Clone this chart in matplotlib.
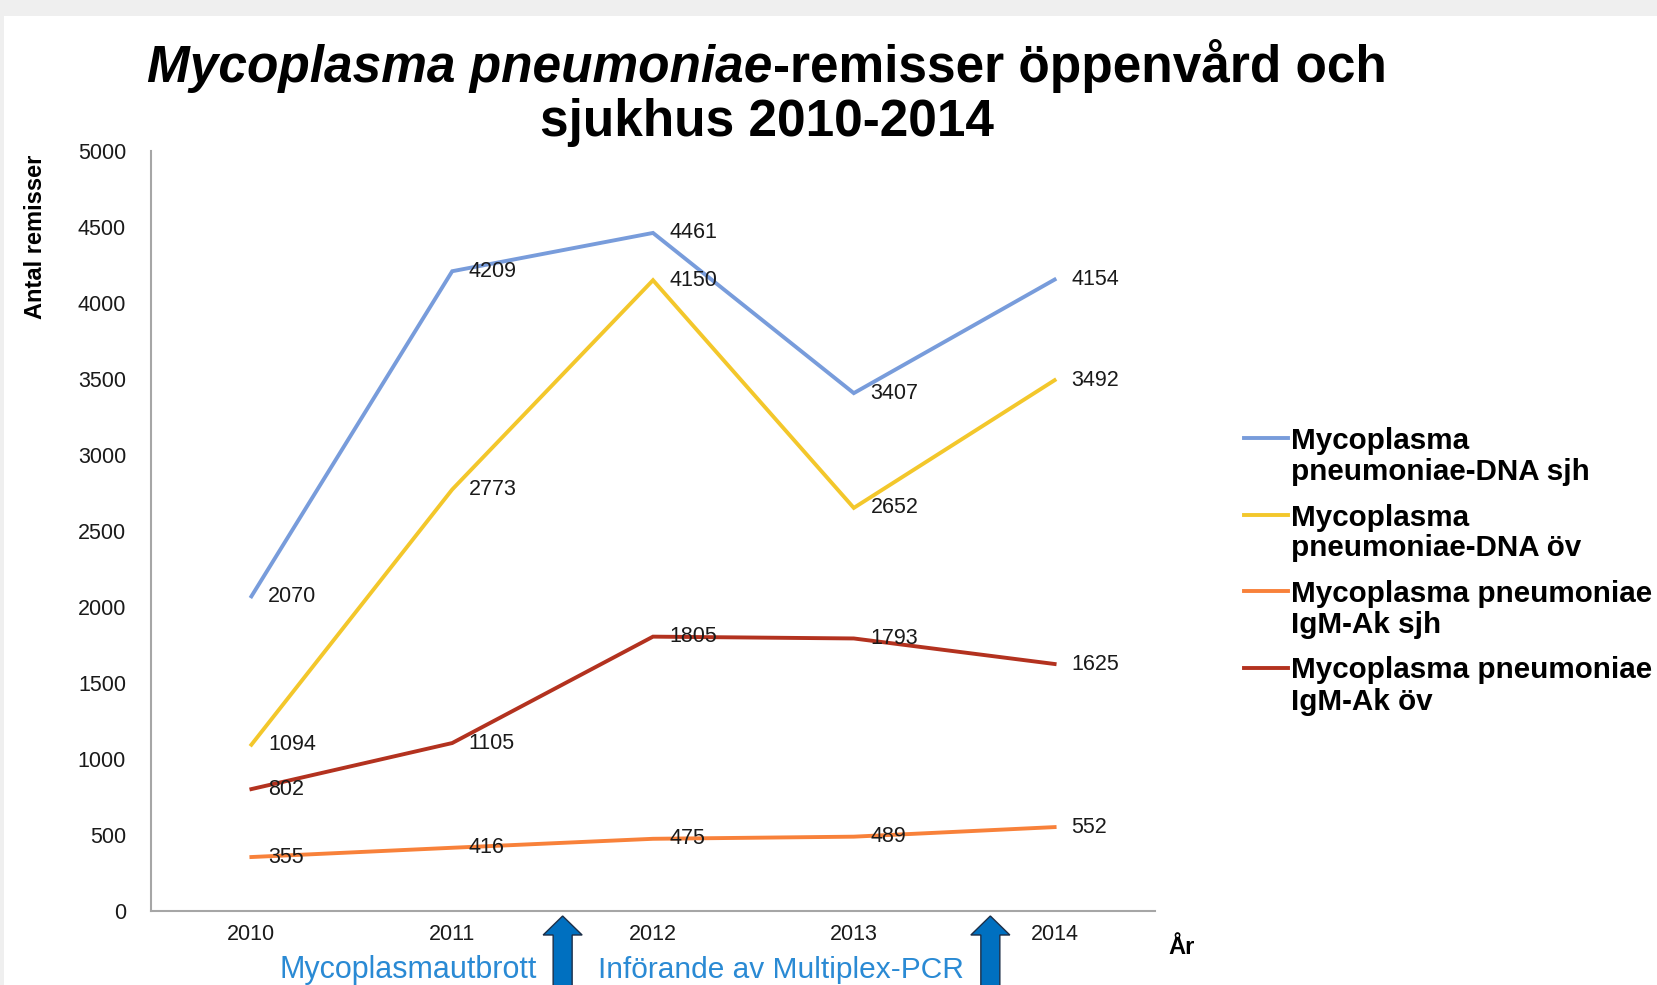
import matplotlib
matplotlib.use("Agg")
import matplotlib.pyplot as plt
from matplotlib.lines import Line2D
from matplotlib.patches import Rectangle, FancyArrow
from matplotlib.transforms import IdentityTransform

plt.rcParams['font.family'] = ['Liberation Sans', 'DejaVu Sans']

W, H = 1657, 985

# data
years = ['2010', '2011', '2012', '2013', '2014']
dna_sjh = [2070, 4209, 4461, 3407, 4154]
dna_ov = [1094, 2773, 4150, 2652, 3492]
igm_sjh = [355, 416, 475, 489, 552]
igm_ov = [802, 1105, 1805, 1793, 1625]

series = [dna_sjh, dna_ov, igm_sjh, igm_ov]
labels = [
    ['Mycoplasma', 'pneumoniae-DNA sjh'],
    ['Mycoplasma', 'pneumoniae-DNA öv'],
    ['Mycoplasma pneumoniae', 'IgM-Ak sjh'],
    ['Mycoplasma pneumoniae', 'IgM-Ak öv'],
]
colors = ['#789CDB', '#F3C72B', '#F8813A', '#B3321F']

# arrow positions (between categories) and their notes
arrow_x = [1.55, 3.68]
notes = ['Mycoplasmautbrott', 'Införande av Multiplex-PCR']


def fx(px):
    return px / W


def fy(py):
    return 1 - py / H


fig = plt.figure(figsize=(W / 100, H / 100), dpi=100)
fig.patch.set_facecolor('#efefef')
fig.add_artist(Rectangle((fx(4), 0), 1, fy(16), transform=fig.transFigure,
                         facecolor='white', edgecolor='none', zorder=-10))

ax = fig.add_axes([fx(151), fy(911), fx(1155 - 151), (911 - 151) / H])
ax.set_facecolor('none')

xs = range(len(years))
for vals, c in zip(series, colors):
    ax.plot(xs, vals, color=c, lw=2.8, solid_joinstyle='miter', zorder=2)
    for x, v in zip(xs, vals):
        ax.annotate(str(v), (x, v), xytext=(12, 0), textcoords='offset points',
                    ha='left', va='center', fontsize=15.5, color='#1a1a1a', zorder=3)

ax.set_xlim(-0.5, 4.5)
ax.set_ylim(0, 5000)
ax.set_yticks(range(0, 5001, 500))
ax.set_xticks(list(xs))
ax.set_xticklabels(years)
ax.tick_params(axis='both', length=0, labelsize=15.5, labelcolor='#1a1a1a')
ax.tick_params(axis='y', pad=18)
ax.tick_params(axis='x', pad=9)
for s in ['top', 'right']:
    ax.spines[s].set_visible(False)
for s in ['left', 'bottom']:
    ax.spines[s].set_color('#a6a6a6')
    ax.spines[s].set_linewidth(1.5)

# title, italic part then upright part on first line
fig.canvas.draw()
r = fig.canvas.get_renderer()
t1 = fig.text(0, fy(82), 'Mycoplasma pneumoniae', fontsize=37, fontweight='bold',
              fontstyle='italic', va='baseline', ha='left')
t2 = fig.text(0, fy(82), '-remisser öppenvård och', fontsize=37, fontweight='bold',
              va='baseline', ha='left')
w1 = t1.get_window_extent(r).width
w2 = t2.get_window_extent(r).width
x0 = 767 - (w1 + w2) / 2
t1.set_x(fx(x0))
t2.set_x(fx(x0 + w1))
fig.text(fx(767), fy(136), 'sjukhus 2010-2014', fontsize=37, fontweight='bold',
         va='baseline', ha='center')

fig.text(fx(35.5), fy(237), 'Antal remisser', rotation=90, fontsize=17,
         fontweight='bold', ha='center', va='center')
fig.text(fx(1182), fy(954), 'År', fontsize=17, fontweight='bold',
         ha='center', va='baseline')

# legend drawn by hand so the handle sits on the first text line
for i, (lab, c) in enumerate(zip(labels, colors)):
    ly = 438 + i * 76.5
    fig.add_artist(Line2D([fx(1244), fx(1288)], [fy(ly), fy(ly)], color=c, lw=2.8,
                          transform=fig.transFigure))
    for j, line in enumerate(lab):
        fig.text(fx(1291), fy(ly + 11 + j * 31), line, fontsize=21.3,
                 fontweight='bold', ha='left', va='baseline')

# arrows below the axis
for ax_x in arrow_x:
    px = ax.transData.transform((ax_x, 0))[0]
    fig.add_artist(FancyArrow(px, -8, 0, 8 + (H - 916), width=19, head_width=39,
                              head_length=19, length_includes_head=True,
                              facecolor='#0070C0', edgecolor='#1d2f48', lw=1,
                              transform=IdentityTransform()))

p1 = ax.transData.transform((arrow_x[0], 0))[0]
fig.text(fx(p1 - 26), fy(978), notes[0], fontsize=22, color='#2A8AD4',
         ha='right', va='baseline')
fig.text(fx(p1 + 35), fy(978), notes[1], fontsize=21.5, color='#2A8AD4',
         ha='left', va='baseline')

fig.savefig('out.png', dpi=100, facecolor=fig.get_facecolor())
